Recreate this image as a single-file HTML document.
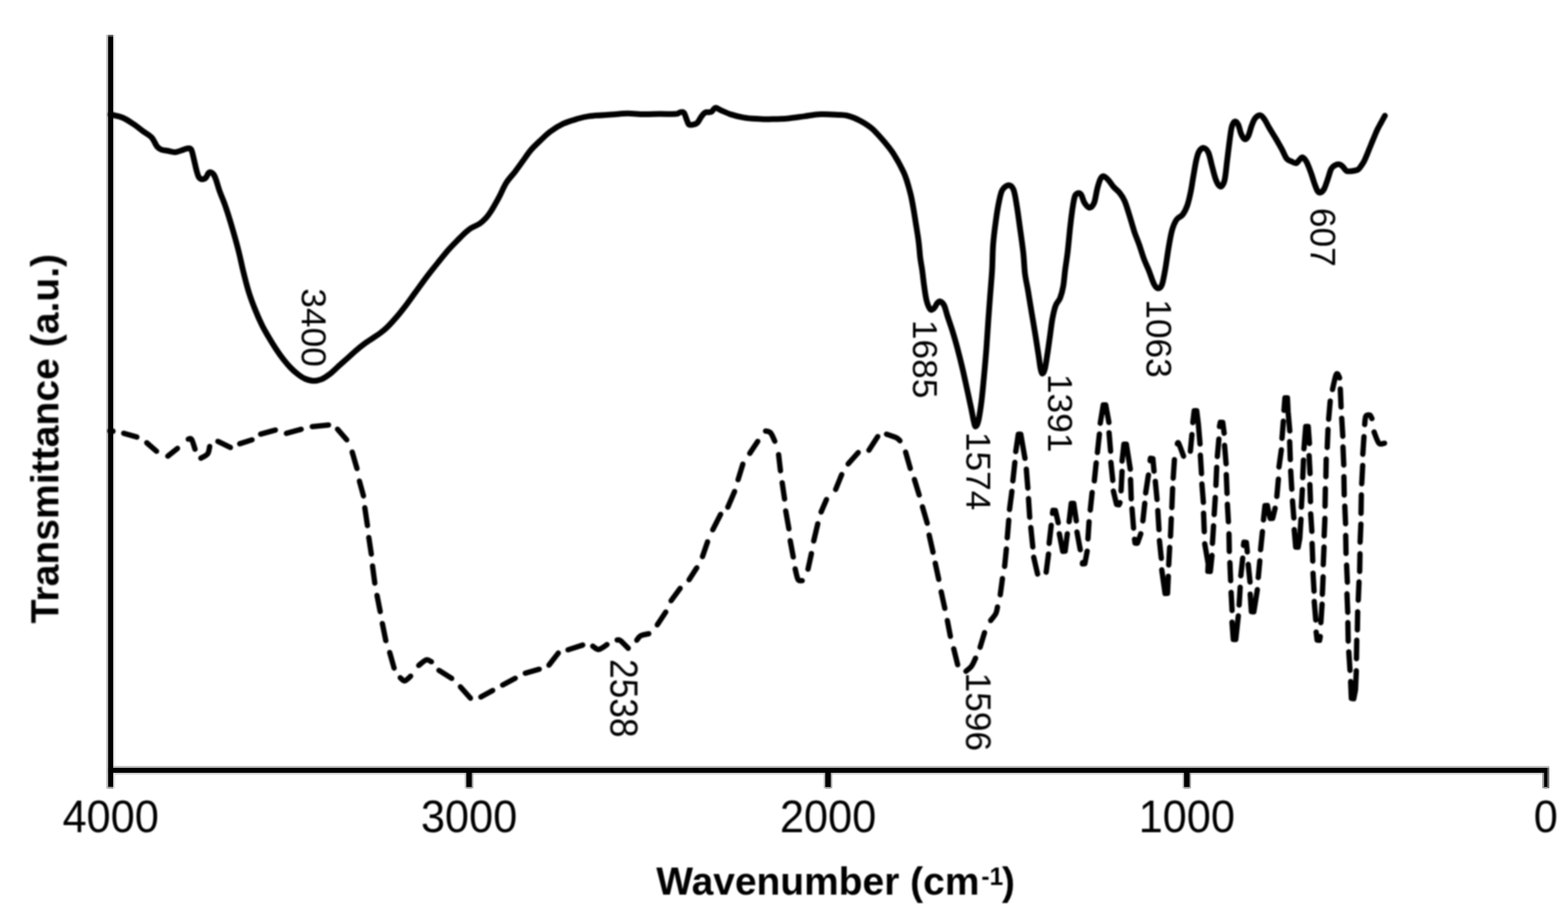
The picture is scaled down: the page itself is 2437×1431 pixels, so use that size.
<!DOCTYPE html>
<html lang="en">
<head>
<meta charset="utf-8">
<title>FTIR spectra</title>
<style>
html,body{margin:0;padding:0;background:#fff;}
body{width:2437px;height:1431px;overflow:hidden;}
svg{display:block;}
text{font-family:"Liberation Sans",Arial,Helvetica,sans-serif;fill:#000;}
.tick{font-size:67.3px;text-anchor:middle;}
.lab{font-size:60.3px;font-weight:bold;}
.pk{font-size:54.8px;}
</style>
</head>
<body>
<svg width="2437" height="1431" viewBox="0 0 2437 1431">
<defs><filter id="soft" x="0" y="0" width="2437" height="1431" filterUnits="userSpaceOnUse"><feGaussianBlur stdDeviation="1.3"/></filter><filter id="crisp" x="0" y="0" width="2437" height="1431" filterUnits="userSpaceOnUse"><feGaussianBlur stdDeviation="0.55"/></filter></defs>
<rect width="2437" height="1431" fill="#fff"/>
<g filter="url(#crisp)">
<rect x="165.2" y="54" width="3" height="1171.5" fill="#bcbcbc"/>
<rect x="176" y="54" width="3" height="1139" fill="#e8e8e8"/>
<rect x="176" y="1203.8" width="3" height="21" fill="#e0e0e0"/>
<rect x="168" y="1190" width="2240" height="3.1" fill="#c0c0c0"/>
<rect x="176" y="1200.7" width="2232" height="3.1" fill="#dcdcdc"/>
<rect x="722.4" y="1200.7" width="2.3" height="24" fill="#bdbdbd"/>
<rect x="733.3" y="1200.7" width="2.3" height="24" fill="#a0a0a0"/>
<rect x="724.7" y="1222.8" width="8.6" height="2.9" fill="#a8a8a8"/>
<rect x="724.7" y="1193" width="8.6" height="29.8" fill="#000"/>
<rect x="1280.2" y="1200.7" width="2.3" height="24" fill="#bdbdbd"/>
<rect x="1291.1" y="1200.7" width="2.3" height="24" fill="#a0a0a0"/>
<rect x="1282.5" y="1222.8" width="8.6" height="2.9" fill="#a8a8a8"/>
<rect x="1282.5" y="1193" width="8.6" height="29.8" fill="#000"/>
<rect x="1837.9" y="1200.7" width="2.3" height="24" fill="#bdbdbd"/>
<rect x="1848.8" y="1200.7" width="2.3" height="24" fill="#a0a0a0"/>
<rect x="1840.2" y="1222.8" width="8.6" height="2.9" fill="#a8a8a8"/>
<rect x="1840.2" y="1193" width="8.6" height="29.8" fill="#000"/>
<rect x="2397" y="1200.7" width="3" height="24" fill="#999"/>
<rect x="2405" y="1193" width="3" height="31.7" fill="#707070"/>
<rect x="2399.9" y="1222.8" width="5.1" height="2.9" fill="#a8a8a8"/>
<rect x="2399.9" y="1193" width="5.1" height="29.8" fill="#000"/>
<rect x="168.1" y="54" width="7.9" height="3" fill="#666"/>
<rect x="168.1" y="56.8" width="7.9" height="1166" fill="#000"/>
<rect x="168.1" y="1222.8" width="7.9" height="2.9" fill="#a8a8a8"/>
<rect x="168.1" y="1193" width="2237" height="7.8" fill="#000"/>
</g>
<g filter="url(#soft)">
<path d="M172.0 178.0C175.2 178.8 185.0 180.4 191.0 183.0C197.0 185.6 203.0 189.9 208.2 193.3C213.3 196.7 217.3 200.2 221.9 203.6C226.5 207.0 231.9 209.5 235.6 213.5C239.3 217.5 241.5 224.4 244.1 227.6C246.7 230.8 248.3 231.6 251.0 232.7C253.7 233.8 256.5 233.6 260.1 234.2C263.7 234.8 268.5 236.7 272.7 236.4C276.9 236.1 281.8 233.6 285.2 232.6C288.6 231.6 290.9 230.4 293.0 230.5C295.1 230.6 296.1 230.2 297.5 233.0C298.9 235.8 300.1 242.3 301.4 247.6C302.7 252.9 304.2 260.4 305.5 265.0C306.8 269.6 307.5 272.9 309.0 275.2C310.5 277.4 312.5 278.4 314.3 278.5C316.1 278.6 318.4 277.6 320.0 276.0C321.6 274.4 322.7 270.3 324.0 268.9C325.3 267.5 326.4 267.3 327.7 267.7C329.0 268.1 330.7 269.2 332.0 271.0C333.3 272.8 333.9 274.0 335.5 278.5C337.1 283.0 339.2 291.1 341.7 298.0C344.2 304.9 347.2 311.2 350.3 320.2C353.4 329.2 357.0 340.7 360.3 352.0C363.6 363.3 367.4 376.7 370.3 388.0C373.2 399.3 375.1 409.3 377.7 420.0C380.3 430.7 383.1 442.1 386.1 452.0C389.1 461.9 392.4 470.7 395.9 479.5C399.4 488.3 403.4 497.4 407.1 505.0C410.8 512.6 414.6 518.7 418.3 525.0C422.0 531.3 425.8 537.4 429.5 543.0C433.2 548.6 436.9 553.8 440.6 558.5C444.3 563.2 448.1 567.7 451.8 571.5C455.5 575.3 459.3 578.7 463.0 581.5C466.7 584.3 470.2 586.8 474.2 588.5C478.2 590.2 482.6 591.6 486.8 591.8C491.0 591.9 495.2 591.1 499.4 589.4C503.6 587.7 507.7 584.9 511.9 581.7C516.1 578.6 520.1 574.5 524.5 570.5C528.9 566.5 533.8 562.2 538.5 558.0C543.2 553.8 547.9 549.4 552.5 545.4C557.1 541.4 561.8 537.6 566.4 534.2C571.0 530.8 575.9 527.8 580.0 525.0C584.1 522.2 587.4 520.2 591.0 517.5C594.6 514.8 597.5 512.6 601.7 508.5C605.9 504.4 611.3 498.4 616.0 493.0C620.7 487.6 624.9 482.3 629.7 476.0C634.5 469.7 639.0 463.2 645.0 455.0C651.0 446.8 659.1 435.5 665.6 427.0C672.1 418.5 678.6 410.6 684.0 403.9C689.4 397.2 693.4 392.1 698.0 387.0C702.6 381.9 707.4 377.2 711.4 373.1C715.4 369.0 718.6 365.6 722.0 362.5C725.4 359.4 728.0 357.0 732.0 354.5C736.0 352.0 741.9 350.0 745.7 347.4C749.5 344.8 752.1 342.1 755.0 339.0C757.9 335.9 760.3 332.4 762.8 328.6C765.3 324.9 767.7 320.5 770.0 316.5C772.3 312.5 773.7 310.0 776.5 304.6C779.3 299.2 782.8 290.4 786.8 284.1C790.8 277.8 796.1 272.5 800.4 266.9C804.7 261.2 808.5 255.8 812.6 250.2C816.7 244.5 820.6 238.4 825.2 233.0C829.8 227.6 835.2 222.8 840.2 218.0C845.2 213.2 849.4 208.8 855.2 204.5C861.0 200.2 868.5 195.5 875.2 192.3C881.9 189.1 888.5 187.2 895.2 185.3C901.9 183.4 906.1 181.8 915.3 180.6C924.5 179.4 940.3 178.8 950.3 178.1C960.3 177.4 966.9 176.4 975.3 176.3C983.6 176.2 992.0 177.5 1000.4 177.6C1008.8 177.7 1017.1 177.2 1025.4 177.1C1033.7 177.0 1045.2 177.5 1050.4 177.1C1055.6 176.7 1054.6 174.9 1056.7 174.6C1058.8 174.3 1061.0 172.9 1062.9 175.1C1064.8 177.3 1066.4 184.5 1067.9 187.6C1069.4 190.7 1069.2 193.3 1071.7 193.9C1074.2 194.5 1080.1 193.3 1083.0 191.4C1085.9 189.5 1087.1 185.3 1089.2 182.6C1091.3 179.9 1092.8 176.6 1095.5 175.1C1098.2 173.6 1102.8 175.1 1105.5 173.8C1108.2 172.6 1109.3 168.0 1111.8 167.6C1114.3 167.2 1116.5 169.6 1120.5 171.3C1124.5 173.0 1129.7 175.7 1135.5 177.6C1141.3 179.5 1148.9 181.4 1155.6 182.6C1162.3 183.8 1168.1 184.2 1175.6 184.6C1183.1 185.0 1192.3 185.2 1200.6 185.1C1208.9 185.0 1217.2 184.7 1225.6 183.9C1233.9 183.2 1242.3 181.7 1250.7 180.6C1259.1 179.5 1266.7 177.9 1275.7 177.6C1284.8 177.2 1298.3 178.2 1305.0 178.5C1311.7 178.8 1312.3 178.8 1316.0 179.5C1319.7 180.2 1323.3 181.5 1327.0 183.0C1330.7 184.5 1335.0 186.7 1338.4 188.5C1341.8 190.3 1344.5 192.0 1347.5 194.0C1350.5 196.0 1353.5 198.2 1356.3 200.6C1359.0 203.0 1361.4 205.7 1364.0 208.5C1366.6 211.3 1369.5 214.6 1371.9 217.4C1374.4 220.2 1376.5 222.7 1378.7 225.5C1381.0 228.3 1383.4 231.3 1385.4 234.2C1387.5 237.1 1389.2 239.8 1391.0 242.8C1392.8 245.8 1394.8 249.1 1396.5 252.1C1398.2 255.1 1399.5 257.8 1401.0 260.8C1402.5 263.8 1404.2 266.8 1405.5 269.9C1406.8 273.0 1407.9 276.1 1409.0 279.5C1410.1 282.9 1411.3 286.9 1412.2 290.1C1413.1 293.4 1413.8 296.0 1414.6 299.0C1415.3 302.0 1415.8 303.5 1416.7 308.0C1417.6 312.5 1418.8 318.8 1420.0 325.9C1421.2 332.9 1422.6 342.1 1423.9 350.3C1425.2 358.5 1426.7 367.0 1427.7 375.3C1428.8 383.6 1429.3 392.9 1430.2 400.3C1431.1 407.8 1432.3 412.8 1433.3 420.0C1434.3 427.2 1435.1 435.7 1436.2 443.5C1437.3 451.3 1438.5 460.8 1440.1 467.0C1441.7 473.2 1444.0 478.8 1446.0 480.7C1448.0 482.6 1450.1 480.3 1451.9 478.7C1453.7 477.1 1455.2 472.6 1456.8 470.9C1458.4 469.2 1459.8 467.9 1461.6 468.5C1463.4 469.1 1465.7 471.1 1467.5 474.8C1469.3 478.5 1470.3 484.0 1472.4 490.5C1474.5 497.0 1477.6 505.4 1480.2 513.9C1482.8 522.4 1485.5 531.5 1488.1 541.3C1490.7 551.1 1493.3 561.5 1495.9 572.6C1498.5 583.7 1501.4 597.5 1503.7 607.9C1506.0 618.3 1508.0 627.5 1509.6 635.3C1511.2 643.1 1512.4 650.2 1513.5 654.8C1514.6 659.4 1515.2 662.7 1516.4 662.7C1517.6 662.7 1518.9 661.0 1520.4 654.8C1521.9 648.6 1523.7 636.9 1525.2 625.5C1526.7 614.1 1527.9 600.3 1529.2 586.3C1530.5 572.3 1532.0 556.0 1533.1 541.3C1534.2 526.6 1535.0 512.0 1536.0 498.3C1537.0 484.6 1537.9 472.2 1538.9 459.1C1539.9 446.1 1541.1 433.1 1541.9 420.0C1542.7 406.9 1542.5 393.2 1543.5 380.3C1544.5 367.4 1546.2 354.1 1547.8 342.8C1549.3 331.5 1551.1 320.6 1552.8 312.7C1554.5 304.8 1555.3 299.4 1557.8 295.2C1560.3 291.0 1564.9 287.7 1567.8 287.7C1570.7 287.7 1573.3 289.8 1575.4 295.2C1577.5 300.6 1578.7 310.2 1580.4 320.2C1582.1 330.2 1583.7 343.2 1585.4 355.3C1587.1 367.4 1589.1 381.2 1590.4 392.8C1591.7 404.4 1591.8 415.2 1593.0 425.0C1594.2 434.8 1596.0 441.1 1597.7 451.3C1599.5 461.6 1601.5 474.8 1603.5 486.5C1605.5 498.2 1607.6 510.7 1609.4 521.8C1611.2 532.9 1613.0 544.6 1614.3 553.1C1615.6 561.6 1616.2 568.0 1617.2 572.6C1618.2 577.2 1619.1 580.5 1620.2 580.5C1621.3 580.5 1622.8 577.8 1624.1 572.6C1625.4 567.4 1626.7 557.7 1628.0 549.2C1629.3 540.7 1630.6 530.9 1631.9 521.8C1633.2 512.7 1634.3 502.2 1635.8 494.4C1637.3 486.6 1638.7 480.0 1640.7 474.8C1642.7 469.6 1645.6 468.0 1647.6 463.1C1649.5 458.2 1651.1 452.6 1652.4 445.4C1653.7 438.2 1654.3 428.8 1655.4 420.0C1656.5 411.2 1657.9 403.6 1659.2 392.8C1660.5 382.0 1661.8 366.6 1663.0 355.3C1664.2 344.0 1665.5 333.6 1666.7 325.2C1668.0 316.8 1669.0 309.4 1670.5 305.2C1672.0 301.0 1673.8 300.6 1675.5 300.2C1677.2 299.8 1678.8 300.2 1680.5 302.7C1682.2 305.2 1683.4 311.9 1685.5 315.2C1687.6 318.5 1690.5 322.7 1693.0 322.7C1695.5 322.7 1698.4 320.2 1700.5 315.2C1702.6 310.2 1703.8 298.9 1705.5 292.7C1707.2 286.4 1708.8 280.8 1710.5 277.7C1712.2 274.6 1713.4 273.5 1715.5 273.9C1717.6 274.3 1720.6 277.5 1723.1 280.2C1725.6 282.9 1727.7 286.9 1730.6 290.2C1733.5 293.5 1737.7 296.4 1740.6 300.2C1743.5 303.9 1745.6 306.8 1748.1 312.7C1750.6 318.6 1753.1 327.4 1755.6 335.3C1758.1 343.2 1760.6 352.8 1763.1 360.3C1765.6 367.8 1768.1 373.2 1770.6 380.3C1773.1 387.4 1775.6 396.1 1778.1 402.8C1780.6 409.5 1783.1 414.1 1785.6 420.4C1788.1 426.7 1790.8 435.8 1793.1 440.4C1795.4 445.0 1797.3 447.5 1799.4 447.9C1801.5 448.3 1803.8 447.5 1805.7 442.9C1807.6 438.3 1808.9 430.1 1810.7 420.4C1812.5 410.6 1814.5 394.9 1816.3 384.4C1818.1 373.8 1819.7 364.4 1821.8 357.1C1823.9 349.8 1826.3 344.7 1829.0 340.8C1831.7 336.9 1835.4 337.1 1838.1 333.5C1840.8 329.9 1843.3 325.1 1845.4 319.0C1847.5 312.9 1849.3 304.5 1850.8 297.2C1852.3 289.9 1853.1 283.2 1854.5 275.3C1855.9 267.4 1857.5 256.6 1859.0 249.9C1860.5 243.2 1861.6 238.7 1863.6 235.4C1865.6 232.1 1868.4 229.6 1870.8 229.9C1873.2 230.2 1876.0 232.6 1878.1 237.2C1880.2 241.8 1881.7 250.5 1883.5 257.2C1885.3 263.9 1887.2 272.0 1889.0 277.2C1890.8 282.4 1892.7 286.1 1894.4 288.1C1896.1 290.1 1897.5 290.5 1899.0 289.0C1900.5 287.5 1902.1 285.5 1903.5 279.0C1904.9 272.5 1906.0 259.6 1907.2 249.9C1908.4 240.2 1909.6 229.6 1910.8 220.8C1912.0 212.0 1913.0 202.5 1914.4 197.2C1915.8 191.9 1917.3 189.6 1919.0 189.0C1920.7 188.4 1922.7 190.4 1924.4 193.6C1926.1 196.8 1927.3 204.3 1929.0 208.1C1930.7 211.9 1932.6 215.7 1934.4 216.3C1936.2 216.9 1938.1 215.3 1939.9 211.8C1941.7 208.3 1943.5 200.1 1945.3 195.4C1947.1 190.7 1948.5 186.3 1950.8 183.6C1953.1 180.9 1956.5 178.8 1958.9 179.1C1961.3 179.4 1963.0 182.2 1965.3 185.5C1967.6 188.8 1969.6 193.4 1972.6 198.6C1975.6 203.8 1980.2 210.8 1983.5 216.4C1986.8 222.1 1989.9 227.5 1992.6 232.5C1995.3 237.5 1997.4 243.4 1999.8 246.5C2002.2 249.6 2004.7 249.6 2007.1 250.8C2009.5 252.0 2012.3 253.9 2014.4 253.5C2016.5 253.1 2018.1 249.6 2019.8 248.1C2021.5 246.6 2022.6 243.9 2024.4 244.5C2026.2 245.1 2028.4 247.5 2030.7 251.7C2033.0 255.9 2035.9 264.1 2038.0 269.9C2040.1 275.7 2041.7 281.8 2043.4 286.3C2045.1 290.9 2046.5 295.1 2048.0 297.2C2049.5 299.3 2050.8 299.6 2052.5 299.0C2054.2 298.4 2056.2 296.8 2058.0 293.5C2059.8 290.2 2061.6 284.1 2063.4 279.0C2065.2 273.9 2067.1 266.2 2068.9 262.6C2070.7 259.0 2072.2 258.4 2074.3 257.2C2076.4 256.0 2079.5 255.1 2081.6 255.4C2083.7 255.7 2085.2 257.3 2087.0 259.0C2088.8 260.7 2090.4 264.2 2092.5 265.4C2094.6 266.5 2096.8 266.2 2099.8 265.9C2102.8 265.6 2107.9 265.0 2110.6 263.5C2113.3 262.0 2114.3 259.3 2116.0 257.0C2117.7 254.7 2119.0 252.7 2120.6 249.5C2122.2 246.3 2123.8 242.0 2125.5 238.0C2127.2 234.0 2128.8 229.7 2130.5 225.6C2132.2 221.5 2133.8 217.5 2135.5 213.5C2137.2 209.5 2138.7 205.5 2140.5 201.7C2142.3 197.9 2144.5 194.2 2146.5 190.5C2148.5 186.8 2151.4 181.6 2152.4 179.8" fill="none" stroke="#000" stroke-width="9" stroke-linejoin="round" stroke-linecap="round"/>
<path d="M1584.6 671.0L1581.0 689.4L1588.4 689.4ZM1638.5 789.6L1636.9 794.5L1639.9 794.6ZM1653.7 860.0L1649.4 841.9L1656.8 841.6ZM1666.9 778.5L1663.8 797.1L1670.4 797.0ZM1716.6 625.5L1712.8 644.1L1720.7 644.0ZM1748.7 686.5L1745.8 704.5L1752.0 704.4ZM1790.3 709.5L1788.6 713.3L1790.9 713.6ZM1812.8 925.6L1809.6 907.7L1814.6 907.5ZM1858.0 634.5L1855.6 647.8L1860.4 647.8ZM1879.0 891.4L1878.3 882.2L1880.5 882.3ZM1898.8 652.8L1896.7 658.8L1900.0 659.0ZM1918.7 997.1L1916.4 978.8L1921.4 978.9ZM1935.6 839.3L1933.8 844.1L1936.4 844.3ZM1946.6 954.0L1944.5 935.5L1950.3 935.7ZM1967.7 782.0L1966.3 791.3L1970.3 791.0ZM1999.0 614.5L1997.0 628.4L2000.6 628.4ZM2015.5 853.7L2014.1 843.1L2018.3 843.4ZM2031.3 659.0L2029.1 677.0L2033.6 677.0ZM2048.7 998.3L2047.6 992.5L2050.7 992.7ZM2101.8 1089.0L2100.9 1078.4L2104.7 1078.7Z" fill="#000" stroke="none"/>
<path d="M170.9 669.6L175.6 670.0M192.3 673.2L212.7 679.0M228.1 688.0L243.3 701.1M260.8 708.7L275.8 696.7M292.6 682.4C293.4 682.4 295.9 680.1 297.7 682.7C299.5 685.3 302.2 695.4 303.1 697.9M312.2 711.9C314.0 710.8 320.4 708.2 322.7 705.2C325.0 702.2 325.3 695.6 325.9 693.7M338.7 685.8L358.1 695.3M372.6 689.5L391.7 683.4M405.1 674.5L428.0 668.2M445.2 673.3L468.1 667.0M485.3 662.9L510.6 660.3M524.6 666.9L538.9 683.4M547.4 702.5L554.8 727.9M558.6 747.5L564.9 770.5M567.0 788.9L571.1 816.6M573.2 835.1L577.1 861.0M579.0 879.4L582.5 906.0M586.0 925.1L590.9 950.3M594.3 968.9L599.6 995.4M605.7 1013.8L612.5 1038.0M622.1 1053.0C623.2 1053.8 626.2 1058.2 628.9 1057.8C631.6 1057.4 636.7 1051.8 638.2 1050.6M650.8 1033.9C652.8 1032.5 659.4 1026.2 662.7 1025.3C666.0 1024.4 669.2 1027.8 670.5 1028.2M682.2 1041.6L702.0 1054.0M715.6 1067.2L731.2 1084.8M747.4 1082.9L765.7 1072.8M781.2 1064.3L800.8 1053.9M816.4 1045.9L838.1 1039.8M853.2 1033.4L867.7 1014.7M882.8 1009.6L905.7 1002.2M921.3 1004.0C922.8 1004.8 926.8 1009.4 930.5 1009.0C934.2 1008.6 941.3 1002.8 943.4 1001.5M959.2 994.4C960.0 994.6 961.4 993.2 964.3 995.3C967.2 997.4 974.4 1005.3 976.4 1007.3M989.7 994.7C990.7 993.5 992.5 989.5 995.6 987.8C998.7 986.1 1006.2 985.1 1008.3 984.6M1021.6 970.8L1034.7 951.0M1043.0 933.4L1057.1 914.1M1071.0 900.8L1082.9 882.2M1091.8 864.8L1099.7 841.8M1107.8 823.1L1120.0 799.1M1131.2 788.0L1141.7 763.6M1147.1 745.4L1154.5 721.2M1165.3 704.4L1177.7 685.8M1189.9 669.7C1191.2 670.1 1195.3 670.0 1197.7 672.6C1200.1 675.2 1203.1 683.3 1204.2 685.5M1210.1 706.3L1213.0 731.5M1215.7 750.1L1219.4 775.3M1221.2 793.9L1226.1 821.6M1228.2 840.2L1232.9 865.4M1235.9 883.9C1236.6 886.7 1238.5 897.3 1240.3 900.4C1242.1 903.5 1245.7 901.9 1246.8 902.2M1255.8 884.3L1261.1 860.1M1264.7 840.5L1271.0 813.8M1276.2 795.5L1284.5 776.1M1298.8 760.5L1308.2 737.3M1318.2 720.8L1333.8 703.2M1350.5 699.4L1364.2 678.3M1377.8 674.6C1380.3 675.5 1389.5 678.4 1393.0 680.1C1396.5 681.8 1397.7 684.0 1398.7 684.8M1407.5 702.4L1414.8 727.8M1421.2 745.0L1428.6 769.1M1433.7 787.5L1441.1 812.9M1444.1 831.3L1450.1 858.0M1453.6 875.1L1459.0 900.2M1462.8 919.5L1468.4 945.2M1472.4 964.2L1477.1 988.7M1482.3 1008.1L1488.4 1032.8M1501.3 1043.0C1502.7 1041.7 1507.5 1038.4 1510.0 1035.0C1512.5 1031.6 1515.2 1024.7 1516.2 1022.6M1523.3 1005.6L1530.2 982.9M1539.7 964.1C1541.1 962.3 1545.9 956.9 1547.7 953.4C1549.5 949.9 1549.9 944.8 1550.3 943.1M1554.6 924.1L1558.0 898.9M1561.4 880.1L1564.1 852.9M1565.5 835.6L1567.8 808.2M1569.0 791.6L1572.7 763.4M1574.2 747.2L1577.3 718.4M1578.7 701.7L1582.7 674.6L1586.5 674.6L1593.0 712.2M1595.1 728.9L1597.5 758.3M1598.5 774.7L1600.4 803.7M1602.1 819.7L1605.2 849.9M1606.6 865.7L1612.6 891.9M1626.0 889.0L1629.6 860.9M1630.6 844.3L1633.8 816.2M1635.8 797.7L1636.5 793.0L1640.3 793.1L1644.7 812.2M1646.4 829.3L1651.7 856.5L1655.5 856.3L1658.8 829.4M1661.6 810.6L1665.0 782.1L1668.8 782.1L1672.8 809.3M1673.9 826.7L1678.9 854.1M1682.6 874.1L1682.3 876.2L1686.1 875.8L1689.7 856.3M1690.9 837.3L1692.6 810.6M1694.5 792.5L1697.4 765.2M1700.8 747.2L1703.7 719.1M1705.6 703.1L1708.7 674.4M1710.0 657.6L1714.7 629.1L1718.5 629.1L1723.5 656.4M1723.7 672.3L1726.1 701.0M1726.6 718.4L1729.5 746.5M1730.4 763.0L1735.4 783.7L1739.1 784.4L1740.7 781.0M1742.4 762.6L1743.9 732.4M1743.9 716.4L1746.8 690.1L1750.6 690.1L1756.7 729.0M1757.1 745.0L1758.2 775.1M1759.4 790.4L1761.8 820.5M1763.3 837.8L1764.1 843.8L1767.9 844.0L1773.0 829.3M1776.3 809.3L1779.2 782.0M1780.6 766.0L1784.9 738.0M1787.5 715.8L1788.0 712.0L1791.8 712.5L1793.6 732.1M1795.6 747.8L1798.3 776.1M1799.5 793.2L1801.3 822.9M1802.0 839.9L1804.9 867.6M1805.6 885.4L1810.8 922.1L1814.6 921.9L1815.8 895.4M1816.4 877.8L1817.9 850.5M1819.2 833.1L1820.4 805.7M1821.3 788.6L1822.5 759.0M1823.4 743.0L1825.3 714.2M1829.8 689.5C1830.2 689.5 1830.4 685.8 1832.0 689.0C1833.6 692.2 1838.2 705.5 1839.5 708.8M1850.1 701.0L1852.5 675.1M1853.9 656.6L1856.1 638.1L1859.9 638.1L1862.5 659.0L1865.1 689.9M1865.6 707.2L1867.4 736.0M1868.0 752.0L1870.3 780.6M1870.6 797.3L1871.7 826.1M1872.4 844.9L1877.8 876.0L1877.3 887.7L1881.1 887.9L1883.7 863.0M1884.4 844.3L1886.1 816.9M1887.1 799.5L1888.8 772.9M1889.8 754.2L1891.0 726.1M1892.0 709.4L1894.4 682.1M1895.3 662.7L1896.6 656.2L1900.4 656.5L1902.6 673.1M1903.2 691.9L1905.6 720.6M1905.9 737.3L1907.1 766.7M1907.6 783.4L1909.2 810.7M1910.1 829.5L1910.6 856.8M1911.5 874.2L1912.7 902.3M1913.4 920.4L1914.9 948.6M1914.8 966.7L1916.8 993.5L1920.6 993.5L1924.6 956.9M1925.9 940.1L1927.5 912.4M1928.5 894.6L1931.4 867.2M1932.6 847.3L1933.4 842.5L1937.1 842.9L1938.6 857.6M1940.0 877.0L1942.8 904.4M1943.1 923.1L1944.9 950.3L1948.7 950.5L1954.2 916.2M1955.6 897.4L1958.0 871.4M1959.2 854.1L1962.1 826.0M1963.7 807.9L1966.0 785.7L1969.8 785.5L1972.0 797.0L1974.2 805.5L1978.0 805.3L1981.8 789.6M1984.5 771.4L1986.9 744.4M1987.8 725.6L1991.5 698.8M1992.5 681.1L1994.6 654.4M1995.6 637.6L1997.1 618.1L2000.9 618.1L2002.0 640.0L2004.6 669.6M2004.4 686.2L2005.4 714.2M2006.0 731.6L2007.7 760.1M2008.8 778.2L2010.9 804.9M2011.5 822.9L2013.8 850.0L2017.6 850.2L2020.1 836.5L2022.0 806.7M2022.6 787.9L2024.1 760.6M2024.7 742.1L2025.9 714.8M2026.6 697.4L2029.4 662.6L2033.2 662.6L2035.2 689.0M2034.6 707.8L2036.1 735.8M2035.8 752.9L2036.8 779.5M2037.1 798.3L2038.9 825.7M2039.3 844.4L2040.3 871.8M2040.7 890.6L2042.3 918.6M2042.6 934.5L2045.0 963.3M2045.6 982.1L2047.1 994.6L2050.9 994.9L2052.0 989.0M2052.9 967.5L2054.8 938.7M2055.2 923.5L2056.4 896.2M2056.6 877.4L2057.8 850.0M2058.0 832.7L2059.2 805.3M2059.4 786.5L2059.9 759.2M2060.7 740.7L2061.2 713.4M2062.8 695.3L2064.0 667.2M2065.0 651.3L2067.4 623.2M2071.0 605.2C2071.8 601.6 2074.7 587.8 2076.0 583.8C2077.3 579.8 2078.0 580.4 2079.0 581.0C2080.0 581.6 2081.5 586.2 2082.0 587.2M2083.1 604.3L2084.3 632.4M2085.3 649.8L2087.0 677.8M2087.3 694.5L2088.5 722.5M2088.7 740.6L2089.2 769.1M2090.1 786.4L2091.3 813.8M2091.5 831.9L2092.0 859.9M2092.9 878.0L2094.1 904.6M2093.5 922.7L2094.7 951.4M2094.9 967.4L2095.4 996.1M2096.3 1012.8L2098.2 1041.6M2099.2 1059.0L2100.3 1085.2L2104.0 1085.6L2106.7 1071.9L2108.0 1042.2M2108.2 1023.4L2108.7 994.7M2109.6 978.7L2110.1 950.6M2111.0 932.5L2112.2 904.2M2113.2 887.9L2113.7 860.5M2113.9 842.4L2115.1 814.4M2115.3 797.7L2115.8 769.0M2116.4 751.6L2117.9 723.1M2118.1 705.8L2119.9 678.4M2121.0 659.6C2121.3 657.5 2121.5 649.1 2122.8 646.7C2124.1 644.3 2127.4 644.4 2129.0 645.0C2130.6 645.6 2131.7 649.5 2132.3 650.4M2135.6 671.2C2136.9 674.1 2140.4 685.7 2143.1 688.6C2145.8 691.5 2150.4 688.6 2151.9 688.6" fill="none" stroke="#000" stroke-width="8.3" stroke-linejoin="round" stroke-linecap="round"/>
<text class="tick" transform="translate(172 1293) scale(1 1.06)">4000</text>
<text class="tick" transform="translate(729 1293) scale(1 1.06)">3000</text>
<text class="tick" transform="translate(1287 1293) scale(1 1.06)">2000</text>
<text class="tick" transform="translate(1844.5 1293) scale(1 1.06)">1000</text>
<text class="tick" transform="translate(2402.5 1293) scale(1 1.06)">0</text>
<text class="lab" transform="translate(1020 1390) scale(1.004 1.025)">Wavenumber (cm<tspan font-size="38" dy="-15" dx="3">-1</tspan><tspan dy="15" dx="-2">)</tspan></text>
<text class="lab" transform="translate(91 968.5) rotate(-90) scale(1.008 1.025)">Transmittance (a.u.)</text>
<text class="pk" transform="translate(468.5 448) rotate(90) scale(1 0.985)">3400</text>
<text class="pk" transform="translate(948.5 1024) rotate(90) scale(1 1.1)">2538</text>
<text class="pk" transform="translate(1418.5 497) rotate(90) scale(1 0.985)">1685</text>
<text class="pk" transform="translate(1502 671) rotate(90) scale(1 0.985)">1574</text>
<text class="pk" transform="translate(1502 1045) rotate(90) scale(1 1.01)">1596</text>
<text class="pk" transform="translate(1629 581) rotate(90) scale(1 0.985)">1391</text>
<text class="pk" transform="translate(1782 465) rotate(90) scale(1 1.03)">1063</text>
<text class="pk" transform="translate(2036.5 323) rotate(90) scale(1 1.03)">607</text>
</g>
</svg>
</body>
</html>
